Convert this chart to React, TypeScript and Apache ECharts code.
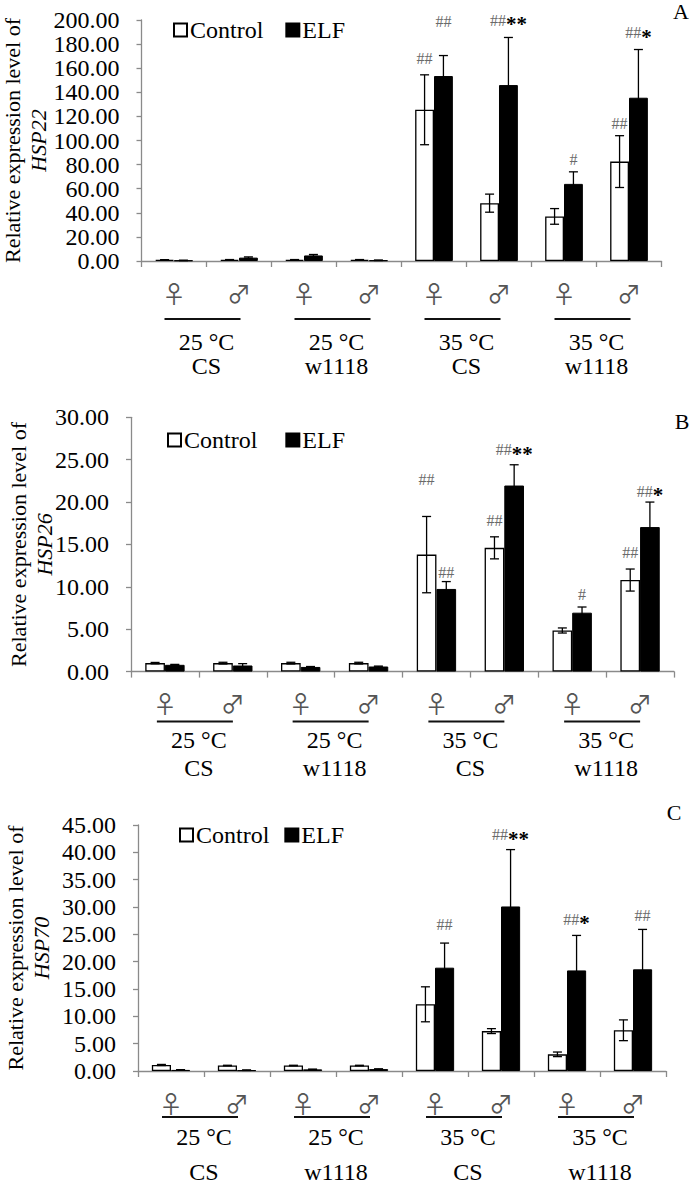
import React, { useEffect, useRef } from 'react';
import * as echarts from 'echarts';

// ---------- data ----------
const SEX_LABELS = ['♀', '♂', '♀', '♂', '♀', '♂', '♀', '♂'];
const GROUP_LABELS = ['25 °C\nCS', '25 °C\nw1118', '35 °C\nCS', '35 °C\nw1118'];
const SERIES_NAMES = ['Control', 'ELF'];
const GENES = ['HSP22', 'HSP26', 'HSP70'];
const PANEL_LETTERS = ['A', 'B', 'C'];
const Y_MAX = [200, 30, 45];
const Y_STEP = [20, 5, 5];

const HSP22_CONTROL = [0.9, 1.0, 1.0, 1.0, 125.5, 48.0, 37.0, 82.5];
const HSP22_CONTROL_ERR = [0.2, 0.2, 0.2, 0.2, 29.0, 7.5, 6.5, 21.5];
const HSP22_ELF = [0.5, 2.8, 4.6, 0.6, 153.5, 146.0, 64.0, 135.5];
const HSP22_ELF_ERR = [0.2, 0.6, 0.8, 0.2, 17.0, 39.5, 10.0, 40.0];
const HSP22_MARK_TEXT = ['##', '##', '##**', '#', '##', '##*'];
const HSP22_MARK_CAT = [4, 4, 5, 6, 7, 7];
const HSP22_MARK_SIDE = [0, 1, 1, 1, 0, 1];
const HSP22_MARK_Y = [168, 199, 200, 84.5, 113.7, 189.5];

const HSP26_CONTROL = [1.0, 1.0, 1.0, 1.0, 13.8, 14.6, 4.85, 10.8];
const HSP26_CONTROL_ERR = [0.08, 0.1, 0.1, 0.1, 4.5, 1.3, 0.3, 1.3];
const HSP26_ELF = [0.8, 0.72, 0.55, 0.6, 9.75, 21.95, 6.95, 17.05];
const HSP26_ELF_ERR = [0.05, 0.22, 0.05, 0.05, 0.87, 2.45, 0.67, 2.95];
const HSP26_MARK_TEXT = ['##', '##', '##', '##**', '#', '##', '##*'];
const HSP26_MARK_CAT = [4, 4, 5, 5, 6, 7, 7];
const HSP26_MARK_SIDE = [0, 1, 0, 1, 1, 0, 1];
const HSP26_MARK_Y = [22.7, 11.7, 17.8, 26.2, 9.05, 14.0, 21.3];

const HSP70_CONTROL = [1.1, 1.0, 1.0, 1.0, 12.2, 7.3, 3.05, 7.45];
const HSP70_CONTROL_ERR = [0.1, 0.05, 0.05, 0.05, 3.2, 0.45, 0.42, 1.9];
const HSP70_ELF = [0.2, 0.15, 0.3, 0.35, 18.9, 30.1, 18.4, 18.6];
const HSP70_ELF_ERR = [0.05, 0.05, 0.05, 0.05, 4.5, 10.4, 6.4, 7.3];
const HSP70_MARK_TEXT = ['##', '##**', '##*', '##'];
const HSP70_MARK_CAT = [4, 5, 6, 7];
const HSP70_MARK_SIDE = [1, 1, 1, 1];
const HSP70_MARK_Y = [26.8, 43.2, 27.8, 28.5];

const PANEL_DATA = [
  { control: HSP22_CONTROL, controlErr: HSP22_CONTROL_ERR, elf: HSP22_ELF, elfErr: HSP22_ELF_ERR,
    markText: HSP22_MARK_TEXT, markCat: HSP22_MARK_CAT, markSide: HSP22_MARK_SIDE, markY: HSP22_MARK_Y },
  { control: HSP26_CONTROL, controlErr: HSP26_CONTROL_ERR, elf: HSP26_ELF, elfErr: HSP26_ELF_ERR,
    markText: HSP26_MARK_TEXT, markCat: HSP26_MARK_CAT, markSide: HSP26_MARK_SIDE, markY: HSP26_MARK_Y },
  { control: HSP70_CONTROL, controlErr: HSP70_CONTROL_ERR, elf: HSP70_ELF, elfErr: HSP70_ELF_ERR,
    markText: HSP70_MARK_TEXT, markCat: HSP70_MARK_CAT, markSide: HSP70_MARK_SIDE, markY: HSP70_MARK_Y },
];

// ---------- layout ----------
const FONT = "'Liberation Serif', 'Times New Roman', serif";
const SYMBOL_FONT = "'Noto Sans CJK JP', 'DejaVu Sans', sans-serif";
const BAR_W = 0.29;
const LAYOUT = [
  { left: 141.5, top: 20, width: 520, height: 241, nameGap: 90, legendLeft: 168, legendTop: 13, legendGap: 22,
    groupOffset: 69, groupLH: 24, lineDy: 58, letter: [681, 11] },
  { left: 131, top: 417.3, width: 543, height: 254.3, nameGap: 74, legendLeft: 162, legendTop: 423, legendGap: 28,
    groupOffset: 54, groupLH: 28.5, lineDy: 50, letter: [682, 421.5] },
  { left: 138, top: 825, width: 528, height: 246, nameGap: 84, legendLeft: 174, legendTop: 818, legendGap: 15,
    groupOffset: 48, groupLH: 35, lineDy: 46, letter: [674, 812.5] },
];

function errRender(params: any, api: any) {
  const i = api.value(0);
  const v = api.value(1);
  const e = api.value(2);
  const side = api.value(3);
  const band = api.size([1, 0])[0];
  const w = band * BAR_W;
  const cx = api.coord([i, 0])[0] + (side ? w / 2 : -w / 2);
  const yt = api.coord([i, v + e])[1];
  const yb = api.coord([i, Math.max(0, v - e)])[1];
  const cap = 4.5;
  const st = { stroke: '#000', lineWidth: 1.3 };
  return {
    type: 'group',
    children: [
      { type: 'line', shape: { x1: cx, y1: yt, x2: cx, y2: yb }, style: st },
      { type: 'line', shape: { x1: cx - cap, y1: yt, x2: cx + cap, y2: yt }, style: st },
      { type: 'line', shape: { x1: cx - cap, y1: yb, x2: cx + cap, y2: yb }, style: st },
    ],
  };
}

function markRender(texts: string[]) {
  return (params: any, api: any) => {
    const i = api.value(0);
    const y = api.value(1);
    const side = api.value(2);
    const band = api.size([1, 0])[0];
    const w = band * BAR_W;
    const cx = api.coord([i, 0])[0] + (side ? w / 2 : -w / 2);
    const cy = api.coord([i, y])[1];
    const t = texts[params.dataIndex];
    const h = t.replace(/\*/g, '');
    const s = t.replace(/#/g, '');
    return {
      type: 'text',
      x: cx,
      y: cy,
      style: {
        text: (h ? `{h|${h}}` : '') + (s ? `{s|${s}}` : ''),
        align: 'center',
        verticalAlign: 'middle',
        rich: {
          h: { fontSize: 16, fill: '#6a6a6a', fontFamily: FONT },
          s: { fontSize: 21, fill: '#000', fontWeight: 'bold', fontFamily: FONT, padding: [8, 0, 0, 0] },
        },
      },
    };
  };
}

function buildOption() {
  const grid: any[] = [];
  const xAxis: any[] = [];
  const yAxis: any[] = [];
  const series: any[] = [];
  const legend: any[] = [];
  const graphic: any[] = [];

  LAYOUT.forEach((L, p) => {
    const D = PANEL_DATA[p];
    grid.push({ left: L.left, top: L.top, width: L.width, height: L.height, containLabel: false, outerBoundsMode: 'none' });
    xAxis.push({
      type: 'category', gridIndex: p, data: SEX_LABELS,
      axisLine: { show: true, lineStyle: { color: '#8a8a8a', width: 1.3 } },
      axisTick: { show: true, length: 6, lineStyle: { color: '#8a8a8a', width: 1.3 } },
      axisLabel: { interval: 0, fontSize: 24, color: '#555', margin: 19, fontFamily: SYMBOL_FONT },
    });
    xAxis.push({
      type: 'category', gridIndex: p, position: 'bottom', offset: L.groupOffset, data: GROUP_LABELS,
      axisLine: { show: false }, axisTick: { show: false },
      axisLabel: { interval: 0, fontSize: 24, lineHeight: L.groupLH, color: '#000', margin: 0, fontFamily: FONT },
    });
    yAxis.push({
      type: 'value', gridIndex: p, min: 0, max: Y_MAX[p], interval: Y_STEP[p],
      name: `Relative expression level of\n{i|${GENES[p]}}`,
      nameLocation: 'middle', nameRotate: 90, nameGap: L.nameGap, nameMoveOverlap: false,
      nameTextStyle: { fontSize: 22, lineHeight: 26, color: '#000', fontFamily: FONT,
        rich: { i: { fontSize: 22, fontStyle: 'italic', color: '#000', fontFamily: FONT } } },
      axisLine: { show: true, lineStyle: { color: '#8a8a8a', width: 1.3 } },
      axisTick: { show: true, length: 5, lineStyle: { color: '#8a8a8a', width: 1.3 } },
      splitLine: { show: false },
      axisLabel: { fontSize: 24, color: '#000', margin: 22, fontFamily: FONT, formatter: (v: number) => v.toFixed(2) },
    });
    series.push({
      type: 'bar', name: SERIES_NAMES[0], xAxisIndex: 2 * p, yAxisIndex: p, data: D.control,
      barWidth: `${BAR_W * 100}%`, barGap: '0%',
      itemStyle: { color: '#ffffff', borderColor: '#000', borderWidth: 1.3 },
    });
    series.push({
      type: 'bar', name: SERIES_NAMES[1], xAxisIndex: 2 * p, yAxisIndex: p, data: D.elf,
      barWidth: `${BAR_W * 100}%`, barGap: '0%',
      itemStyle: { color: '#000000', borderColor: '#000', borderWidth: 1 },
    });
    const errData = D.control.map((v: number, i: number) => [i, v, D.controlErr[i], 0])
      .concat(D.elf.map((v: number, i: number) => [i, v, D.elfErr[i], 1]));
    series.push({
      type: 'custom', xAxisIndex: 2 * p, yAxisIndex: p, data: errData, renderItem: errRender, z: 5, silent: true,
    });
    const markData = D.markCat.map((c: number, k: number) => [c, D.markY[k], D.markSide[k]]);
    series.push({
      type: 'custom', xAxisIndex: 2 * p, yAxisIndex: p, data: markData, renderItem: markRender(D.markText), z: 6, silent: true, clip: false,
    });
    legend.push({
      data: SERIES_NAMES, left: L.legendLeft, top: L.legendTop, itemWidth: 13, itemHeight: 13, itemGap: L.legendGap,
      icon: 'rect', selectedMode: false, textStyle: { fontSize: 24, color: '#000', fontFamily: FONT, padding: [0, 0, 0, -2] },
    });
    graphic.push({
      type: 'text', x: L.letter[0], y: L.letter[1],
      style: { text: PANEL_LETTERS[p], fontSize: 22, fontFamily: FONT, fill: '#000', align: 'center', verticalAlign: 'middle' },
    });
    for (let g = 0; g < 4; g++) {
      const cx = L.left + (g + 0.5) * L.width / 4 - 4;
      const y = L.top + L.height + L.lineDy;
      graphic.push({
        type: 'line', shape: { x1: cx - 38, y1: y, x2: cx + 38, y2: y },
        style: { stroke: '#111', lineWidth: 2 },
      });
    }
  });

  return {
    animation: false,
    backgroundColor: '#ffffff',
    textStyle: { fontFamily: FONT },
    grid, xAxis, yAxis, series, legend, graphic,
  };
}

export default function App() {
  const ref = useRef<HTMLDivElement>(null);
  useEffect(() => {
    if (!ref.current) return;
    const chart = echarts.init(ref.current, undefined, { renderer: 'svg' });
    chart.setOption(buildOption() as any);
    return () => chart.dispose();
  }, []);
  return (
    <div style={{ position: 'fixed', left: 0, top: 0, width: 690, height: 1183, background: '#fff' }}>
      <div ref={ref} style={{ width: 690, height: 1183 }} />
    </div>
  );
}
